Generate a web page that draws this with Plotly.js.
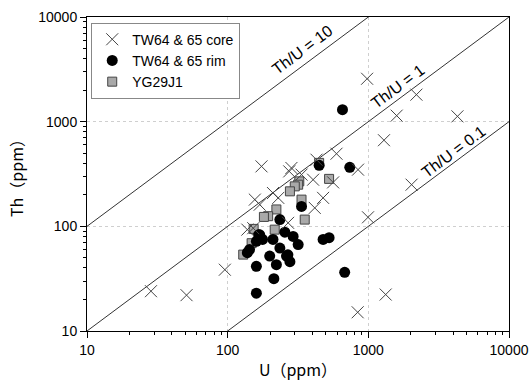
<!DOCTYPE html>
<html>
<head>
<meta charset="utf-8">
<script src="https://cdn.plot.ly/plotly-3.0.1.min.js"></script>
<style>html,body{margin:0;padding:0;background:#fff}#chart{width:530px;height:387px}</style>
</head>
<body>
<div id="chart"></div>
<script>
// TW64 & 65 core (U ppm, Th ppm)
const coreU  = [28.5, 51, 95.5, 138, 152, 156, 169, 174, 210, 229, 269, 274, 284, 335, 405, 428, 477, 416, 562, 594, 845, 980, 995, 1292, 1590, 2197, 4300, 2030, 1328, 840];
const coreTh = [24, 22, 38.5, 93, 96, 180, 161, 374, 208, 187, 108, 335, 361, 312, 279, 433, 187, 150, 263, 494, 348, 2570, 122, 665, 1141, 1811, 1124, 250, 22.3, 15.1];
// TW64 & 65 rim
const rimU  = [235, 255, 210, 169, 166, 177, 160, 143, 138, 199, 235, 222, 277, 160, 213, 160, 292, 317, 262, 268, 335, 447, 738, 655, 477, 526, 679];
const rimTh = [116, 88, 75, 83, 83, 75, 72, 60, 56, 52, 62, 43, 46, 41.5, 31.6, 23, 80, 67, 52, 53.5, 155, 383, 366, 1303, 75, 78, 36.4];
// YG29J1
const ygU  = [323, 317, 300, 277, 222, 194, 181, 216, 153, 148, 129, 526, 335, 353, 447];
const ygTh = [269, 250, 241, 216, 145, 125, 123, 93, 94.5, 69, 53.7, 284, 180, 116, 404];
// Reference Th/U ratio lines and labels
const ratios = [10, 1, 0.1];
const ratioLabels = ['Th/U = 10', 'Th/U = 1', 'Th/U = 0.1'];
const labelU  = [342, 1618, 4045];
const labelTh = [4875, 2158, 517];
const lineU = [10, 10000];
const tickVals = [10, 100, 1000, 10000];
const tickText = ['10', '100', '1000', '10000'];
const minorMult = [2, 3, 4, 5, 6, 7, 8, 9];

const minorVals = [];
[10, 100, 1000].forEach(d => minorMult.forEach(k => minorVals.push(d * k)));

const traces = [];
ratios.forEach(r => traces.push({
  x: lineU, y: lineU.map(u => u * r), mode: 'lines', type: 'scatter',
  line: {color: '#333', width: 1}, showlegend: false, hoverinfo: 'skip'
}));
traces.push({
  x: ygU, y: ygTh, mode: 'markers', type: 'scatter', name: 'YG29J1', legendrank: 3,
  marker: {symbol: 'square', size: 9, color: '#a9a9a9', line: {color: '#444', width: 1}}
});
traces.push({
  x: rimU, y: rimTh, mode: 'markers', type: 'scatter', name: 'TW64 &amp; 65 rim', legendrank: 2,
  marker: {symbol: 'circle', size: 11, color: '#000', line: {width: 0}}
});
traces.push({
  x: coreU, y: coreTh, mode: 'markers', type: 'scatter', name: 'TW64 &amp; 65 core', legendrank: 1,
  marker: {symbol: 'x-thin-open', size: 12, color: '#444', line: {color: '#444', width: 1}}
});

const axisBase = {
  type: 'log', range: [1, 4], tickvals: tickVals, ticktext: tickText,
  ticks: 'outside', ticklen: 6, tickcolor: '#000', tickwidth: 1,
  showline: true, linecolor: '#000', linewidth: 1, mirror: true,
  showgrid: true, gridcolor: '#cfcfcf', griddash: 'dot', gridwidth: 1,
  zeroline: false,
  minor: {tickvals: minorVals, ticks: 'outside', ticklen: 3, tickcolor: '#000', showgrid: false},
  tickfont: {family: 'Liberation Sans, Arial, sans-serif', size: 14, color: '#000'}
};

const layout = {
  width: 530, height: 387,
  margin: {l: 87, r: 21, t: 17, b: 56},
  paper_bgcolor: '#fff', plot_bgcolor: '#fff',
  showlegend: true,
  legend: {
    x: 0.01, y: 0.982, xanchor: 'left', yanchor: 'top',
    bgcolor: '#fff', bordercolor: '#888', borderwidth: 1,
    font: {family: 'Liberation Sans, Arial, sans-serif', size: 14, color: '#000'},
    tracegroupgap: 0
  },
  xaxis: Object.assign({}, axisBase, {
    title: {text: 'U（ppm）', standoff: 8, font: {family: 'Noto Sans CJK JP, Liberation Sans, sans-serif', size: 16, color: '#000'}}
  }),
  yaxis: Object.assign({}, axisBase, {
    title: {text: 'Th（ppm）', standoff: 10, font: {family: 'Noto Sans CJK JP, Liberation Sans, sans-serif', size: 16, color: '#000'}}
  }),
  annotations: ratioLabels.map((t, i) => ({
    x: Math.log10(labelU[i]), y: Math.log10(labelTh[i]), xref: 'x', yref: 'y',
    text: t, showarrow: false, textangle: -36.6, xanchor: 'center', yanchor: 'middle',
    font: {family: 'Liberation Sans, Arial, sans-serif', size: 16, color: '#000'}
  }))
};

Plotly.newPlot('chart', traces, layout, {displayModeBar: false, staticPlot: true});
</script>
</body>
</html>
